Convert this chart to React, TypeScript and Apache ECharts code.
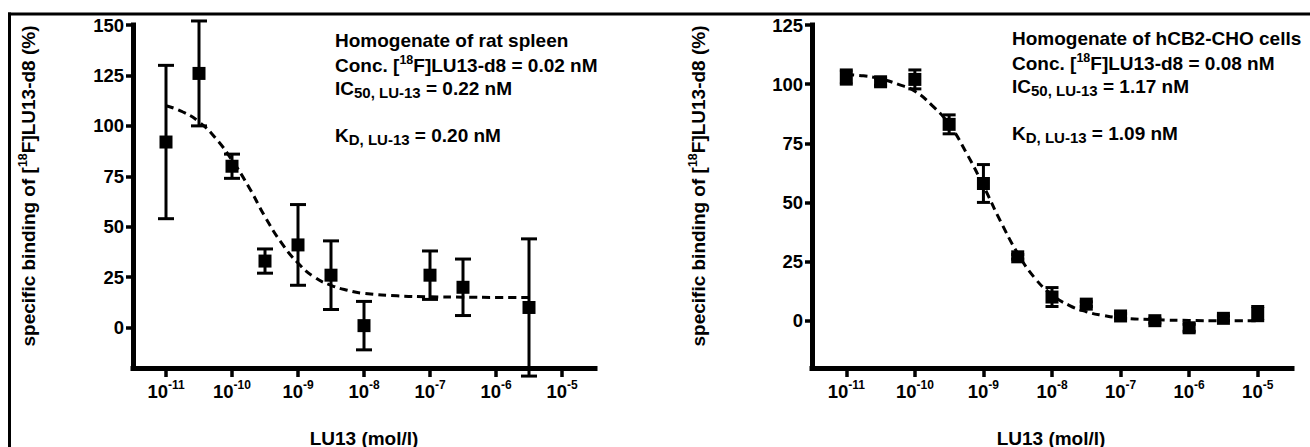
import { useEffect, useRef } from 'react';
import * as echarts from 'echarts';

// ---- data (log10 of LU13 concentration in mol/l) ----
const decadeTicks = [-11, -10, -9, -8, -7, -6, -5];
const spleenYTicks = [0, 25, 50, 75, 100, 125, 150];
const cellYTicks = [0, 25, 50, 75, 100, 125];

const spleenLogConc = [-11, -10.5, -10, -9.5, -9, -8.5, -8, -7, -6.5, -5.5];
const spleenMean = [92, 126, 80, 33, 41, 26, 1, 26, 20, 10];
const spleenErr = [38, 26, 6, 6, 20, 17, 12, 12, 14, 34];

const spleenFitX = [-11, -10.75, -10.5, -10.25, -10, -9.75, -9.5, -9.25, -9, -8.75, -8.5, -8.25, -8, -7.5, -7, -6.5, -6, -5.5];
const spleenFitY = [110, 107, 102, 94, 83, 70, 55, 42, 32, 25, 21, 18.5, 17, 15.8, 15.3, 15.1, 15, 15];

const cellLogConc = [-11, -10.5, -10, -9.5, -9, -8.5, -8, -7.5, -7, -6.5, -6, -5.5, -5];
const cellMean = [103, 101, 102, 83, 58, 27, 10, 7, 2, 0, -3, 1, 3];
const cellErr = [3, 1.5, 4, 4, 8, 1, 4, 1, 1, 1, 1.5, 1, 3];

const cellFitX = [-11, -10.75, -10.5, -10.25, -10, -9.75, -9.5, -9.25, -9, -8.75, -8.5, -8.25, -8, -7.75, -7.5, -7.25, -7, -6.5, -6, -5.5, -5];
const cellFitY = [104, 103.5, 102.2, 100, 97, 91, 83, 71, 57, 42, 28.5, 18, 11, 6.5, 3.8, 2.2, 1.2, 0.4, 0.1, 0, 0];

const FONT = '"Liberation Sans", Arial, Helvetica, sans-serif';

function xAxisCfg(gridIndex: number) {
  return {
    type: 'value',
    gridIndex,
    min: -11.5,
    max: -4.5,
    axisLine: { show: true, onZero: false, lineStyle: { color: '#000', width: 5, opacity: 1, cap: 'square' } },
    axisTick: { show: true, customValues: decadeTicks, length: 9, lineStyle: { color: '#000', width: 3.5, opacity: 1 } },
    axisLabel: {
      customValues: decadeTicks,
      margin: 11,
      formatter: (v: number) => `{b|10}{s|${v}}`,
      rich: {
        b: { fontSize: 18.5, fontWeight: 'bold', fontFamily: FONT, color: '#000', lineHeight: 24, verticalAlign: 'middle' },
        s: { fontSize: 12, fontWeight: 'bold', fontFamily: FONT, color: '#000', lineHeight: 12, verticalAlign: 'top' },
      },
    },
    splitLine: { show: false },
  };
}

function yAxisCfg(gridIndex: number, max: number, ticks: number[]) {
  return {
    type: 'value',
    gridIndex,
    min: -20,
    max,
    axisLine: { show: true, onZero: false, lineStyle: { color: '#000', width: 5, opacity: 1, cap: 'square' } },
    axisTick: { show: true, customValues: ticks, length: 7, lineStyle: { color: '#000', width: 3.5, opacity: 1 } },
    axisLabel: {
      customValues: ticks,
      margin: 9,
      fontSize: 18.5,
      fontWeight: 'bold',
      fontFamily: FONT,
      color: '#000',
    },
    splitLine: { show: false },
  };
}

function errorSeries(idx: number, xs: number[], mean: number[], err: number[], capW: number) {
  return {
    type: 'custom',
    xAxisIndex: idx,
    yAxisIndex: idx,
    clip: false,
    silent: true,
    z: 2,
    encode: { x: 0, y: [1, 2] },
    data: xs.map((x, i) => [x, mean[i] - err[i], mean[i] + err[i]]),
    renderItem: (_params: any, api: any) => {
      const x = api.value(0);
      const lo = api.coord([x, api.value(1)]);
      const hi = api.coord([x, api.value(2)]);
      const hw = capW / 2;
      const st = { stroke: '#000', lineWidth: 3 };
      return {
        type: 'group',
        children: [
          { type: 'line', shape: { x1: hi[0], y1: hi[1], x2: lo[0], y2: lo[1] }, style: st },
          { type: 'line', shape: { x1: hi[0] - hw, y1: hi[1], x2: hi[0] + hw, y2: hi[1] }, style: st },
          { type: 'line', shape: { x1: lo[0] - hw, y1: lo[1], x2: lo[0] + hw, y2: lo[1] }, style: st },
        ],
      };
    },
  };
}

function fitSeries(idx: number, xs: number[], ys: number[]) {
  return {
    type: 'line',
    xAxisIndex: idx,
    yAxisIndex: idx,
    data: xs.map((x, i) => [x, ys[i]]),
    smooth: true,
    showSymbol: false,
    symbol: 'none',
    silent: true,
    z: 3,
    lineStyle: { color: '#000', width: 3, type: [8, 5], opacity: 1 },
  };
}

function pointSeries(idx: number, xs: number[], ys: number[], size: number) {
  return {
    type: 'scatter',
    xAxisIndex: idx,
    yAxisIndex: idx,
    data: xs.map((x, i) => [x, ys[i]]),
    symbol: 'rect',
    symbolSize: size,
    silent: true,
    z: 4,
    itemStyle: { color: '#000', opacity: 1 },
  };
}

const annRich = {
  a: { fontSize: 19, fontWeight: 'bold', fontFamily: FONT, fill: '#000', lineHeight: 24, verticalAlign: 'middle' },
  sup: { fontSize: 12.5, fontWeight: 'bold', fontFamily: FONT, fill: '#000', lineHeight: 10, verticalAlign: 'top' },
  sub: { fontSize: 15, fontWeight: 'bold', fontFamily: FONT, fill: '#000', lineHeight: 15, verticalAlign: 'bottom' },
};

function annText(x: number, y: number, text: string) {
  return {
    type: 'text',
    x,
    y,
    silent: true,
    style: { text, rich: annRich, textAlign: 'left', textVerticalAlign: 'middle', fill: '#000', fontFamily: FONT, fontWeight: 'bold', fontSize: 19 },
  };
}

function annotation(x: number, ys: number[], lines: string[]) {
  return lines.map((t, i) => annText(x, ys[i], t));
}

const spleenLines = [
  '{a|Homogenate of rat spleen}',
  '{a|Conc. [}{sup|18}{a|F]LU13-d8 = 0.02 nM}',
  '{a|IC}{sub|50, LU-13}{a| = 0.22 nM}',
  '{a|K}{sub|D, LU-13}{a| = 0.20 nM}',
];
const cellLines = [
  '{a|Homogenate of hCB2-CHO cells}',
  '{a|Conc. [}{sup|18}{a|F]LU13-d8 = 0.08 nM}',
  '{a|IC}{sub|50, LU-13}{a| = 1.17 nM}',
  '{a|K}{sub|D, LU-13}{a| = 1.09 nM}',
];

const yName = '{a|specific binding of [}{sup|18}{a|F]LU13-d8 (%)}';
const xName = '{a|LU13 (mol/l)}';

function axisName(x: number, y: number, text: string, rotate: boolean) {
  return {
    type: 'text',
    x,
    y,
    rotation: rotate ? Math.PI / 2 : 0,
    silent: true,
    style: { text, rich: annRich, textAlign: 'center', textVerticalAlign: 'middle', fill: '#000', fontFamily: FONT, fontWeight: 'bold', fontSize: 19 },
  };
}

const option = {
  animation: false,
  backgroundColor: '#fff',
  textStyle: { fontFamily: FONT, fontWeight: 'bold', color: '#000' },
  grid: [
    { left: 133, top: 25, width: 462, height: 343 },
    { left: 812, top: 25, width: 480, height: 343 },
  ],
  xAxis: [xAxisCfg(0), xAxisCfg(1)],
  yAxis: [yAxisCfg(0, 150, spleenYTicks), yAxisCfg(1, 125, cellYTicks)],
  series: [
    errorSeries(0, spleenLogConc, spleenMean, spleenErr, 16),
    fitSeries(0, spleenFitX, spleenFitY),
    pointSeries(0, spleenLogConc, spleenMean, 13),
    errorSeries(1, cellLogConc, cellMean, cellErr, 13),
    fitSeries(1, cellFitX, cellFitY),
    pointSeries(1, cellLogConc, cellMean, 13),
  ],
  graphic: [
    { type: 'rect', silent: true, shape: { x: 8, y: 12.5, width: 1302, height: 3 }, style: { fill: '#000' } },
    { type: 'rect', silent: true, shape: { x: 8, y: 12.5, width: 3, height: 440 }, style: { fill: '#000' } },
    ...annotation(335, [40, 65, 88, 135], spleenLines),
    ...annotation(1012, [38, 63, 86, 133], cellLines),
    axisName(28, 186, yName, true),
    axisName(698, 186, yName, true),
    axisName(364, 438, xName, false),
    axisName(1051, 438, xName, false),
  ],
};

export default function App() {
  const ref = useRef<HTMLDivElement>(null);
  useEffect(() => {
    if (!ref.current) return;
    const chart = echarts.init(ref.current, null, { renderer: 'svg' });
    chart.setOption(option as any);
    return () => chart.dispose();
  }, []);
  return (
    <div
      ref={ref}
      style={{ position: 'fixed', left: 0, top: 0, width: 1310, height: 447, background: '#fff' }}
    />
  );
}
